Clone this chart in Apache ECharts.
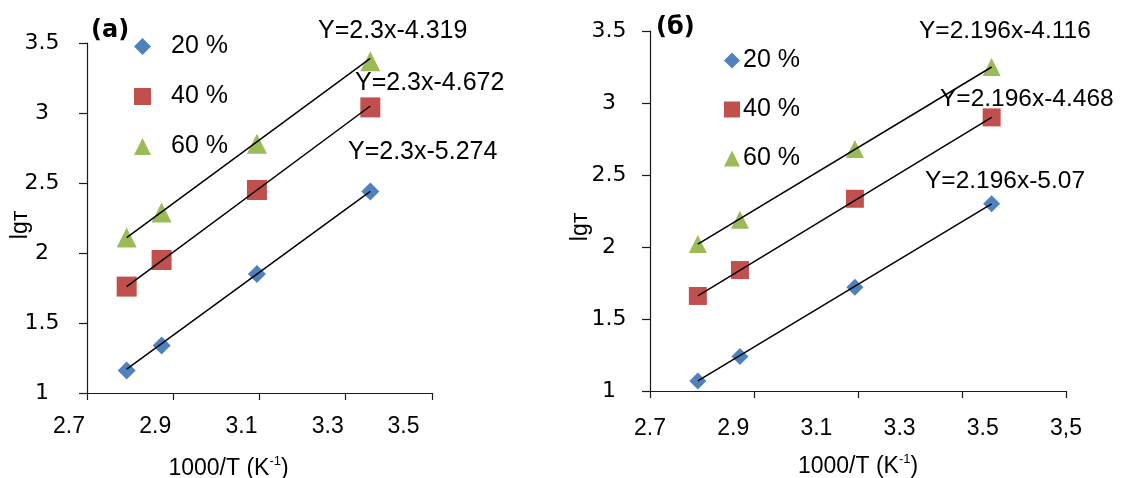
<!DOCTYPE html>
<html>
<head>
<meta charset="utf-8">
<script src="https://cdn.jsdelivr.net/npm/echarts@6/dist/echarts.min.js"></script>
<style>
html,body{margin:0;padding:0;background:#fff;}
#chart{width:1121px;height:478px;}
</style>
</head>
<body>
<div id="chart"></div>
<script>
// ---- data ----
const seriesNames = ['20 %', '40 %', '60 %'];
const xValues = [2.792, 2.873, 3.094, 3.357];
// panel (a)
const leftY20 = [1.16, 1.34, 1.85, 2.44];
const leftY40 = [1.76, 1.95, 2.45, 3.04];
const leftY60 = [2.11, 2.29, 2.78, 3.37];
// panel (б)
const rightY20 = [1.07, 1.24, 1.72, 2.30];
const rightY40 = [1.66, 1.84, 2.335, 2.90];
const rightY60 = [2.02, 2.19, 2.68, 3.25];
// trend line end points
const fitX = [2.792, 3.357];
const leftFit20 = [1.17, 2.44];
const leftFit40 = [1.76, 3.05];
const leftFit60 = [2.11, 3.39];
const rightFit20 = [1.07, 2.30];
const rightFit40 = [1.66, 2.90];
const rightFit60 = [2.02, 3.25];
// equations
const leftEq = ['Y=2.3x-5.274', 'Y=2.3x-4.672', 'Y=2.3x-4.319'];
const rightEq = ['Y=2.196x-5.07', 'Y=2.196x-4.468', 'Y=2.196x-4.116'];
// ticks
const xTicks = [2.7, 2.9, 3.1, 3.3, 3.5];
const leftXLabels = ['2.7', '2.9', '3.1', '3.3', '3.5'];
const rightXLabels = ['2.7', '2.9', '3.1', '3.3', '3.5', '3,5'];
const yMin = 1, yMax = 3.5, yStep = 0.5;
const panelTitles = ['(a)', '(б)'];
const xName = ['1000/T (K', '-1', ')'];
const yName = 'lgт';

const colors = ['#4F81BD', '#C0504D', '#9BBB59'];
const symbols = ['diamond', 'rect', 'triangle'];
const F = '"Liberation Sans", Arial, sans-serif';
const FD = '"DejaVu Sans", sans-serif';

function pts(ys) { return ys.map((y, i) => [xValues[i], y]); }
function fit(ys) { return ys.map((y, i) => [fitX[i], y]); }

const chart = echarts.init(document.getElementById('chart'));

const axisLine = { show: true, lineStyle: { color: '#1a1a1a', width: 1.2 } };

function yAxis(grid, margin, nameGap, namePad) {
  return {
    gridIndex: grid, type: 'value', min: yMin, max: yMax, interval: yStep,
    axisLine: axisLine,
    axisTick: { show: true, inside: false, length: 8, lineStyle: { color: '#1a1a1a', width: 1.2 } },
    splitLine: { show: false },
    axisLabel: { align: 'center', margin: margin, color: '#000', fontFamily: FD, fontSize: 22,
      formatter: v => String(v) },
    name: yName, nameLocation: 'middle', nameGap: nameGap, nameRotate: 90, nameMoveOverlap: false,
    nameTextStyle: { color: '#000', fontFamily: F, fontSize: 23, padding: namePad }
  };
}

const nameRich = {
  a: { fontFamily: F, fontSize: 23, color: '#000' },
  s: { fontFamily: F, fontSize: 13, color: '#000', padding: [0, 0, 14, 0] }
};
const xNameStr = '{a|' + xName[0] + '}{s|' + xName[1] + '}{a|' + xName[2] + '}';

const option = {
  backgroundColor: '#fff',
  animation: false,
  grid: [
    { left: 87, right: 689, top: 43, bottom: 85, outerBoundsMode: 'none', containLabel: false },
    { left: 650, right: 55, top: 31, bottom: 87, outerBoundsMode: 'none', containLabel: false }
  ],
  xAxis: [
    {
      gridIndex: 0, type: 'value', min: 2.7, max: 3.5,
      axisLine: axisLine,
      axisTick: { show: true, length: 7, customValues: xTicks, lineStyle: { color: '#1a1a1a', width: 1.2 } },
      splitLine: { show: false },
      axisLabel: {
        customValues: xTicks, margin: 22,
        formatter: v => {
          const i = xTicks.findIndex(t => Math.abs(t - v) < 1e-6);
          return (i === xTicks.length - 1 ? '{e|' : '{n|') + leftXLabels[i] + '}';
        },
        rich: {
          n: { fontFamily: F, fontSize: 23, color: '#000', padding: [0, 36, 0, 0] },
          e: { fontFamily: F, fontSize: 23, color: '#000', padding: [0, 57, 0, 0] }
        }
      },
      name: xNameStr, nameLocation: 'middle', nameGap: 62,
      nameTextStyle: { rich: nameRich, padding: [0, 62, 0, 0] }
    },
    {
      gridIndex: 1, type: 'value', min: 2.7, max: 3.5,
      axisLine: axisLine,
      axisTick: { show: true, length: 7, customValues: xTicks, lineStyle: { color: '#1a1a1a', width: 1.2 } },
      splitLine: { show: false },
      axisLabel: { show: false },
      name: xNameStr, nameLocation: 'middle', nameGap: 62,
      nameTextStyle: { rich: nameRich }
    },
    {
      gridIndex: 1, type: 'value', min: 0, max: rightXLabels.length - 1, interval: 1,
      position: 'bottom',
      axisLine: { show: false }, axisTick: { show: false }, splitLine: { show: false },
      axisLabel: { margin: 26, color: '#000', fontFamily: F, fontSize: 23,
        showMinLabel: true, showMaxLabel: true,
        formatter: v => rightXLabels[Math.round(v)] }
    }
  ],
  yAxis: [
    yAxis(0, 45, 55, [0, 14, 0, 0]),
    yAxis(1, 41, 58, [0, 32, 0, 0])
  ],
  legend: [
    {
      left: 134, top: 34, orient: 'vertical', padding: 0,
      itemWidth: 17, itemHeight: 17, itemGap: 25,
      data: seriesNames,
      textStyle: { fontFamily: F, fontSize: 25, color: '#000', padding: [0, 0, 0, 15] }
    },
    {
      left: 724, top: 48, orient: 'vertical', padding: 0,
      itemWidth: 16, itemHeight: 16, itemGap: 24,
      data: seriesNames,
      textStyle: { fontFamily: F, fontSize: 25, color: '#000', padding: [0, 0, 0, -2] }
    }
  ],
  graphic: [
    { type: 'text', left: 91, top: 19, style: { text: panelTitles[0], font: 'bold 24px ' + FD, fill: '#000' } },
    { type: 'text', left: 656, top: 16, style: { text: panelTitles[1], font: 'bold 24px ' + FD, fill: '#000' } },
    { type: 'text', left: 318, top: 19, style: { text: leftEq[2], font: '25px ' + F, fill: '#000' } },
    { type: 'text', left: 355, top: 71, style: { text: leftEq[1], font: '25px ' + F, fill: '#000' } },
    { type: 'text', left: 348, top: 140, style: { text: leftEq[0], font: '25px ' + F, fill: '#000' } },
    { type: 'text', left: 919, top: 19, style: { text: rightEq[2], font: '24.5px ' + F, fill: '#000' } },
    { type: 'text', left: 940, top: 87, style: { text: rightEq[1], font: '24.5px ' + F, fill: '#000' } },
    { type: 'text', left: 925, top: 169, style: { text: rightEq[0], font: '24.5px ' + F, fill: '#000' } }
  ],
  series: []
};

const leftData = [leftY20, leftY40, leftY60];
const rightData = [rightY20, rightY40, rightY60];
const leftFits = [leftFit20, leftFit40, leftFit60];
const rightFits = [rightFit20, rightFit40, rightFit60];
const leftSizes = [18, 20, 20];
const rightSizes = [17, 18, 18];

for (let k = 0; k < 3; k++) {
  option.series.push({
    name: seriesNames[k], type: 'scatter', xAxisIndex: 0, yAxisIndex: 0,
    symbol: symbols[k], symbolSize: leftSizes[k], itemStyle: { color: colors[k], opacity: 1 },
    data: pts(leftData[k]), z: 2
  });
  option.series.push({
    name: seriesNames[k], type: 'scatter', xAxisIndex: 1, yAxisIndex: 1,
    symbol: symbols[k], symbolSize: rightSizes[k], itemStyle: { color: colors[k], opacity: 1 },
    data: pts(rightData[k]), z: 2
  });
  option.series.push({
    name: 'fitA' + k, type: 'line', xAxisIndex: 0, yAxisIndex: 0, showSymbol: false, symbol: 'none',
    lineStyle: { color: '#000', width: 1.5 }, data: fit(leftFits[k]), z: 3, silent: true
  });
  option.series.push({
    name: 'fitB' + k, type: 'line', xAxisIndex: 1, yAxisIndex: 1, showSymbol: false, symbol: 'none',
    lineStyle: { color: '#000', width: 1.5 }, data: fit(rightFits[k]), z: 3, silent: true
  });
}

chart.setOption(option);
</script>
</body>
</html>
